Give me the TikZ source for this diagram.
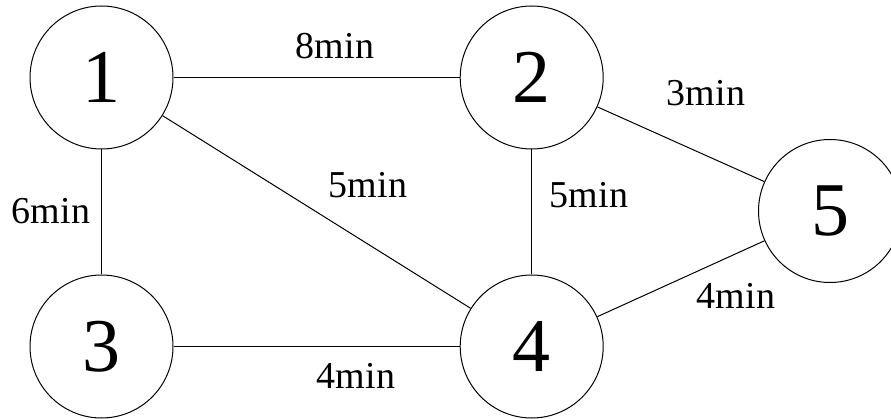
\documentclass[tikz,border=0pt]{standalone}
\usepackage{fontspec}
\setmainfont{Liberation Serif}
\begin{document}
\begin{tikzpicture}[x=1pt,y=-1pt,
  vertex/.style={circle,draw,line width=1pt,minimum size=143pt,inner sep=0pt,font=\fontsize{76}{80}\selectfont},
  edge/.style={line width=1pt},
  lbl/.style={inner sep=0pt,font=\fontsize{38}{40}\selectfont}]
\useasboundingbox (0,0) rectangle (891,419);
\node[vertex] (n1) at (101.5,77.5) {1};
\node[vertex] (n2) at (531.7,77.5) {2};
\node[vertex] (n3) at (101.5,346.5) {3};
\node[vertex] (n4) at (531.7,346.5) {4};
\node[vertex] (n5) at (830,211) {5};
\draw[edge] (n1) -- (n2);
\draw[edge] (n1) -- (n3);
\draw[edge] (n1) -- (n4);
\draw[edge] (n2) -- (n4);
\draw[edge] (n2) -- (n5);
\draw[edge] (n3) -- (n4);
\draw[edge] (n4) -- (n5);
\node[lbl] (l12) at (335,46) {8min};
\node[lbl] (l25) at (706,93) {3min};
\node[lbl] (l14) at (368,185) {5min};
\node[lbl] (l13) at (51,211) {6min};
\node[lbl] (l24) at (589,195) {5min};
\node[lbl] (l45) at (736,296) {4min};
\node[lbl] (l34) at (356,376) {4min};
\end{tikzpicture}
\end{document}
